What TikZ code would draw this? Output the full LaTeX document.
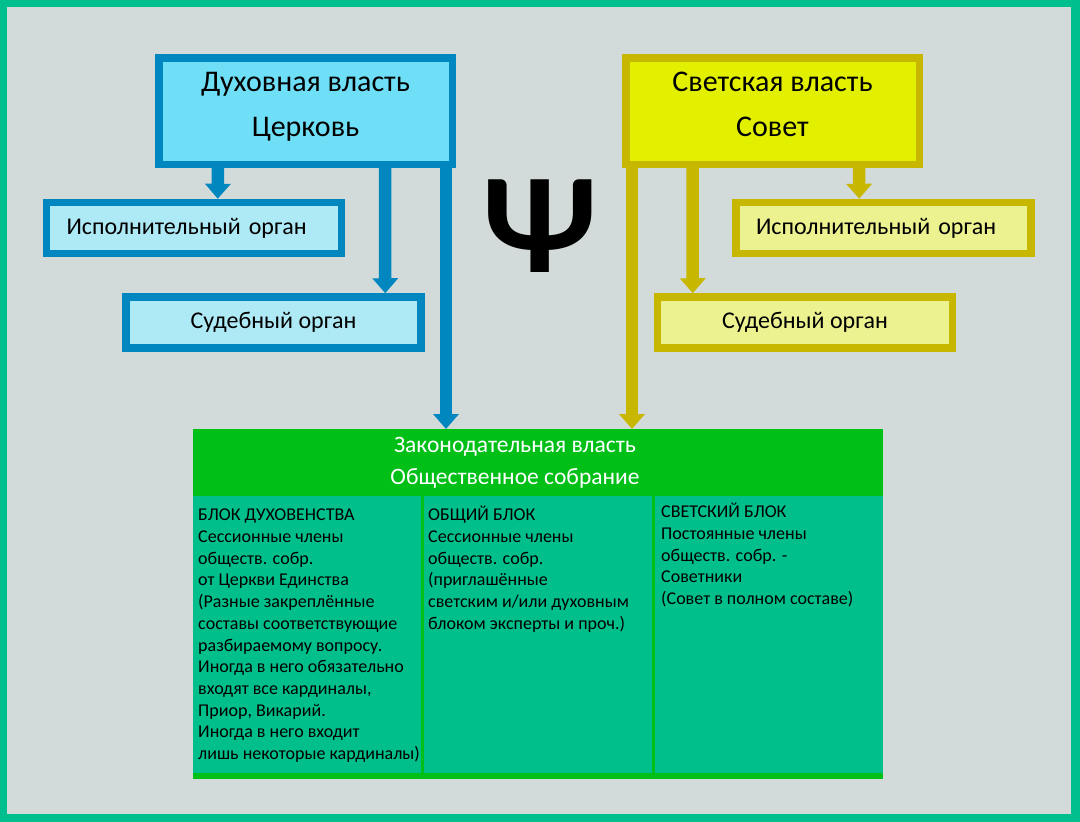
\documentclass[tikz,border=0pt]{standalone}
\usepackage{fontspec}
\setmainfont{Carlito}
\usetikzlibrary{arrows.meta,calc}
\definecolor{outergreen}{HTML}{00BF8F}
\definecolor{bggray}{HTML}{D2DBD9}
\definecolor{bluebd}{HTML}{0087C0}
\definecolor{bluetop}{HTML}{6FDFF7}
\definecolor{bluelight}{HTML}{AEEAF6}
\definecolor{yelbd}{HTML}{C8B700}
\definecolor{yeltop}{HTML}{E2F000}
\definecolor{yellight}{HTML}{EDF291}
\definecolor{hdrgreen}{HTML}{00C018}
\definecolor{teal}{HTML}{00BF8B}
\newcommand{\lowdepth}{\rule[-13pt]{0pt}{13pt}}
\tikzset{
  bigbox/.style={draw, line width=7.5pt, align=center, inner sep=0pt,
    minimum width=293.5pt, minimum height=106.5pt,
    font=\fontsize{30}{45}\selectfont},
  smallbox/.style={draw, line width=7.5pt, inner sep=0pt,
    minimum width=295pt, minimum height=51pt,
    font=\fontsize{24}{28}\selectfont},
  execbox/.style={smallbox, text width=255pt, align=left},
  judbox/.style={smallbox, align=center},
  barrow/.style={line width=12.5pt, -{Triangle[width=25pt,length=15pt]}},
  coltext/.style={anchor=north west, align=left, inner sep=0pt,
    font=\fontsize{18}{21.7}\selectfont, text=black},
}
\begin{document}
\begin{tikzpicture}[x=1pt,y=-1pt]
\useasboundingbox (0,0) rectangle (1080,822);
\fill[outergreen] (0,0) rectangle (1080,822);
\fill[bggray] (7,7) rectangle (1071,814);

% top boxes
\node[bigbox, draw=bluebd, fill=bluetop] (church) at (305.5,111) {Духовная власть\\Церковь\lowdepth};
\node[bigbox, draw=yelbd, fill=yeltop] (council) at (772.5,111) {Светская власть\\Совет\lowdepth};

% small boxes
\node[execbox, draw=bluebd, fill=bluelight] (exb) at (194,228) {Исполнительный орган};
\node[judbox, draw=bluebd, fill=bluelight] (jb) at (273.5,322.5) {Судебный орган};
\node[execbox, draw=yelbd, fill=yellight] (exy) at (883.5,228) {Исполнительный орган};
\node[judbox, draw=yelbd, fill=yellight] (jy) at (805,322.5) {Судебный орган};

% psi
\node[font=\fontsize{143}{143}\selectfont\bfseries, inner sep=0pt] (psi) at (540,226) {Ψ};

% legislative table
\node[fill=hdrgreen, minimum width=690pt, minimum height=67pt, inner sep=0pt, anchor=north west] (leg) at (192.5,429) {};
\node[font=\fontsize{23.5}{32}\selectfont, text=white, align=center, inner sep=0pt] (legtxt) at (515,463) {Законодательная власть\\Общественное собрание};
\node[fill=teal, minimum width=690pt, minimum height=283pt, inner sep=0pt, anchor=north west] (body) at (192.5,496) {};
\fill[hdrgreen] (192.5,772.5) rectangle (882.5,779);
\fill[hdrgreen] (420.5,496) rectangle (423.5,772.5);
\fill[hdrgreen] (651.5,496) rectangle (654.5,772.5);

\node[coltext] (c1) at (198,509) {БЛОК ДУХОВЕНСТВА\\Сессионные члены\\обществ. собр.\\от Церкви Единства\\(Разные закреплённые\\составы соответствующие\\разбираемому вопросу.\\Иногда в него обязательно\\входят все кардиналы,\\Приор, Викарий.\\Иногда в него входит\\лишь некоторые кардиналы)};
\node[coltext] (c2) at (428,506) {ОБЩИЙ БЛОК\\Сессионные члены\\обществ. собр.\\(приглашённые\\светским и/или духовным\\блоком эксперты и проч.)};
\node[coltext] (c3) at (661,503) {СВЕТСКИЙ БЛОК\\Постоянные члены\\обществ. собр. -\\Советники\\(Совет в полном составе)};

% arrows blue
\draw[barrow, bluebd] ([xshift=63pt]church.south west) -- ([xshift=175pt]exb.north west);
\draw[barrow, bluebd] ([xshift=230pt]church.south west) -- ([xshift=263pt]jb.north west);
\draw[barrow, bluebd] ([xshift=291pt]church.south west) -- ([xshift=253.5pt]leg.north west);
% arrows yellow
\draw[barrow, yelbd] ([xshift=237pt]council.south west) -- ([xshift=127pt]exy.north west);
\draw[barrow, yelbd] ([xshift=70.5pt]council.south west) -- ([xshift=39pt]jy.north west);
\draw[barrow, yelbd] ([xshift=10pt]council.south west) -- ([xshift=439.5pt]leg.north west);
\end{tikzpicture}
\end{document}
